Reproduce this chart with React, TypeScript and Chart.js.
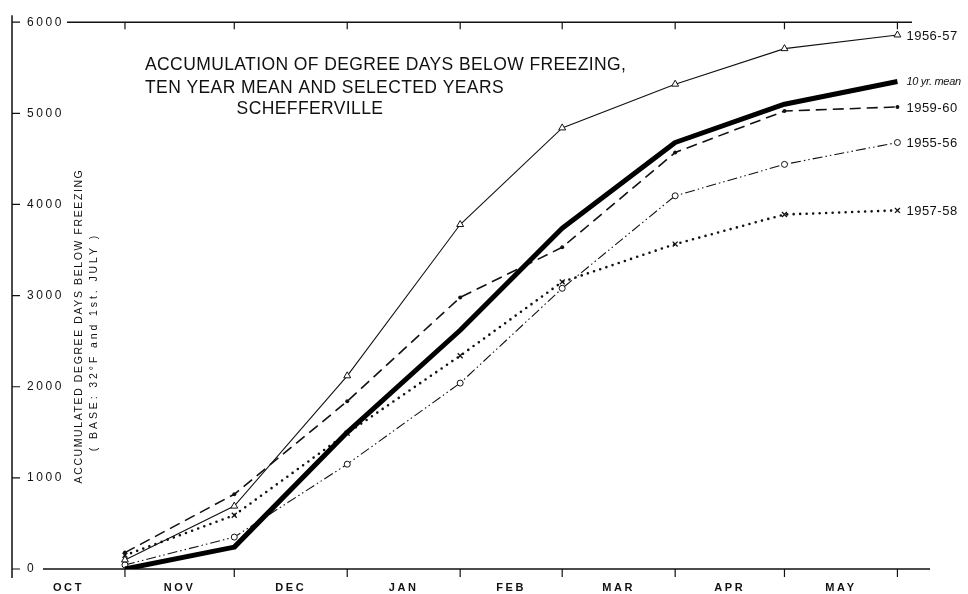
import React, { useEffect, useRef } from 'react';
import { Chart, registerables } from 'chart.js';

Chart.register(...registerables);

// ---- data ----
const monthLabels = ['OCT', 'NOV', 'DEC', 'JAN', 'FEB', 'MAR', 'APR', 'MAY'];
// month boundaries, in days counted from 1 October
const monthBounds = [0, 31, 61, 92, 123, 151, 182, 212, 243];
// observation days: 1st of Nov, Dec, Jan, Feb, Mar, Apr, May, Jun
const pointDays = [31, 61, 92, 123, 151, 182, 212, 243];
const yTickValues = [0, 1000, 2000, 3000, 4000, 5000, 6000];

const seriesNames = ['10 yr. mean', '1956-57', '1959-60', '1955-56', '1957-58'];
const tenYearMean = [0, 240, 1500, 2620, 3740, 4680, 5100, 5350];
const year1956_57 = [100, 690, 2120, 3780, 4840, 5320, 5710, 5860];
const year1959_60 = [180, 820, 1840, 2980, 3530, 4570, 5025, 5070];
const year1955_56 = [45, 350, 1150, 2040, 3080, 4095, 4440, 4680];
const year1957_58 = [150, 590, 1490, 2340, 3150, 3565, 3890, 3935];

const titleLines = [
  'ACCUMULATION OF DEGREE DAYS BELOW FREEZING,',
  'TEN YEAR MEAN AND SELECTED YEARS',
  'SCHEFFERVILLE',
];
const yTitleLines = ['ACCUMULATED DEGREE DAYS BELOW FREEZING', '( BASE: 32°F and 1st. JULY )'];

const FONT = '"Liberation Sans", Arial, Helvetica, sans-serif';
const INK = '#111';

const toPoints = (vals: number[]) => vals.map((v, i) => ({ x: pointDays[i], y: v }));

const framePlugin = {
  id: 'frame',
  beforeDraw(chart: any) {
    chart.ctx.letterSpacing = '2.6px';
  },
  beforeDatasetsDraw(chart: any) {
    const ctx = chart.ctx as CanvasRenderingContext2D;
    ctx.letterSpacing = '0px';
    const { left, right, top, bottom } = chart.chartArea;
    const xs = chart.scales.x;
    const ys = chart.scales.y;
    ctx.save();
    ctx.strokeStyle = INK;
    ctx.lineWidth = 1.5;
    ctx.beginPath();
    // left axis
    ctx.moveTo(left, top - 7);
    ctx.lineTo(left, bottom + 9);
    // top frame (interrupted by the 6000 label)
    ctx.moveTo(left + 55, top);
    ctx.lineTo(right, top);
    // bottom axis (interrupted by the 0 label)
    ctx.moveTo(left + 31, bottom);
    ctx.lineTo(right + 18, bottom);
    ctx.stroke();
    ctx.lineWidth = 1.2;
    ctx.beginPath();
    yTickValues.forEach((v) => {
      const py = ys.getPixelForValue(v);
      ctx.moveTo(left, py);
      ctx.lineTo(left + 8, py);
    });
    monthBounds.slice(1).forEach((d) => {
      const px = xs.getPixelForValue(d);
      ctx.moveTo(px, bottom);
      ctx.lineTo(px, bottom + 8);
      ctx.moveTo(px, top);
      ctx.lineTo(px, top + 7);
    });
    ctx.stroke();
    ctx.restore();
  },
  afterDraw(chart: any) {
    const ctx = chart.ctx as CanvasRenderingContext2D;
    const xs = chart.scales.x;
    const ys = chart.scales.y;
    ctx.save();
    ctx.fillStyle = INK;
    ctx.textBaseline = 'middle';

    // title
    ctx.letterSpacing = '0.4px';
    ctx.font = `17.5px ${FONT}`;
    ctx.textAlign = 'left';
    ctx.fillText(titleLines[0], 145, 65);
    ctx.fillText(titleLines[1], 145, 88);
    ctx.textAlign = 'center';
    ctx.fillText(titleLines[2], 310, 109);

    // y-axis title (rotated)
    ctx.font = `10.5px ${FONT}`;
    ctx.letterSpacing = '1.6px';
    ctx.save();
    ctx.translate(79, 326);
    ctx.rotate(-Math.PI / 2);
    ctx.fillText(yTitleLines[0], 0, 0);
    ctx.restore();
    ctx.letterSpacing = '2.9px';
    ctx.save();
    ctx.translate(94, 342);
    ctx.rotate(-Math.PI / 2);
    ctx.fillText(yTitleLines[1], 0, 0);
    ctx.restore();

    // series labels at line ends
    ctx.textAlign = 'left';
    const lastIdx = pointDays.length - 1;
    const lx = xs.getPixelForValue(pointDays[lastIdx]) + 9;
    chart.data.datasets.forEach((ds: any, i: number) => {
      const py = ys.getPixelForValue(ds.data[lastIdx].y);
      if (i === 0) {
        ctx.letterSpacing = '-0.3px';
        ctx.font = `italic 11px ${FONT}`;
      } else {
        ctx.letterSpacing = '0.5px';
        ctx.font = `13px ${FONT}`;
      }
      ctx.fillText(seriesNames[i], lx, py + 1);
    });
    ctx.restore();
  },
};

export default function App() {
  const ref = useRef<HTMLCanvasElement>(null);
  useEffect(() => {
    const canvas = ref.current;
    if (!canvas) return;
    const chart = new Chart(canvas, {
      type: 'line',
      data: {
        datasets: [
          {
            label: seriesNames[0],
            data: toPoints(tenYearMean),
            borderColor: '#000',
            borderWidth: 5,
            pointRadius: 0,
            borderJoinStyle: 'round',
          },
          {
            label: seriesNames[1],
            data: toPoints(year1956_57),
            borderColor: INK,
            borderWidth: 1.1,
            pointStyle: 'triangle',
            pointRadius: 4,
            pointBorderWidth: 1,
            pointBorderColor: INK,
            pointBackgroundColor: '#fff',
          },
          {
            label: seriesNames[2],
            data: toPoints(year1959_60),
            borderColor: INK,
            borderWidth: 1.6,
            borderDash: [11, 6],
            pointStyle: 'circle',
            pointRadius: 2,
            pointBorderWidth: 0,
            pointBackgroundColor: INK,
          },
          {
            label: seriesNames[3],
            data: toPoints(year1955_56),
            borderColor: INK,
            borderWidth: 1.1,
            borderDash: [10, 3, 1.5, 3, 1.5, 3],
            pointStyle: 'circle',
            pointRadius: 3,
            pointBorderWidth: 1,
            pointBorderColor: INK,
            pointBackgroundColor: '#fff',
          },
          {
            label: seriesNames[4],
            data: toPoints(year1957_58),
            borderColor: INK,
            borderWidth: 2.6,
            borderDash: [0, 6.5],
            borderCapStyle: 'round',
            pointStyle: 'crossRot',
            pointRadius: 3.5,
            pointBorderWidth: 1.3,
            pointBorderColor: INK,
          },
        ] as any,
      },
      options: {
        animation: false,
        responsive: false,
        events: [],
        layout: { padding: { left: 12, right: 56, top: 15, bottom: 0 } },
        plugins: { legend: { display: false }, tooltip: { enabled: false }, title: { display: false } },
        elements: { line: { tension: 0 } },
        scales: {
          x: {
            type: 'linear',
            position: 'bottom',
            min: monthBounds[0],
            max: 247,
            bounds: 'data',
            grid: { display: false, drawTicks: false },
            border: { display: false },
            afterBuildTicks: (scale: any) => {
              scale.ticks = monthLabels.map((_, i) => ({ value: (monthBounds[i] + monthBounds[i + 1]) / 2 }));
            },
            afterFit: (scale: any) => {
              scale.height = 25;
            },
            ticks: {
              autoSkip: false,
              maxRotation: 0,
              minRotation: 0,
              padding: 12,
              color: INK,
              font: { family: FONT, size: 11, weight: 'bold' },
              callback: (_v: any, index: number) => monthLabels[index],
            },
          },
          y: {
            type: 'linear',
            position: 'left',
            min: yTickValues[0],
            max: yTickValues[yTickValues.length - 1],
            grid: { display: false, drawTicks: false },
            border: { display: false },
            afterBuildTicks: (scale: any) => {
              scale.ticks = yTickValues.map((v) => ({ value: v }));
            },
            afterFit: (scale: any) => {
              scale.width = 0;
            },
            ticks: {
              mirror: true,
              padding: 15,
              color: INK,
              font: { family: FONT, size: 12 },
              callback: (v: any) => String(v),
            },
          },
        },
      } as any,
      plugins: [framePlugin as any],
    });
    return () => chart.destroy();
  }, []);

  return (
    <div style={{ position: 'fixed', left: 0, top: 0, width: 968, height: 594, background: '#fff' }}>
      <canvas ref={ref} width={968} height={594} style={{ display: 'block', width: 968, height: 594 }} />
    </div>
  );
}
